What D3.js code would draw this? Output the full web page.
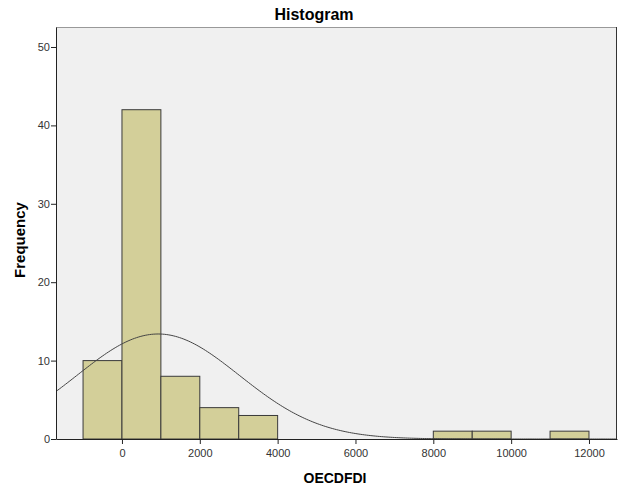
<!DOCTYPE html>
<html>
<head>
<meta charset="utf-8">
<script src="https://cdn.jsdelivr.net/npm/d3@7"></script>
<style>
  body { margin: 0; background: #fff; }
  text { font-family: "Liberation Sans", Arial, sans-serif; }
</style>
</head>
<body>
<svg id="chart" width="632" height="489"></svg>
<script>
// bin edges and counts
var binStart = [-1000, 0, 1000, 2000, 3000, 8000, 9000, 11000];
var binEnd   = [0, 1000, 2000, 3000, 4000, 9000, 10000, 12000];
var counts   = [10, 42, 8, 4, 3, 1, 1, 1];
var xTicks = [0, 2000, 4000, 6000, 8000, 10000, 12000];
var yTicks = [0, 10, 20, 30, 40, 50];
// normal curve parameters (estimated from the curve)
var curveMean = 930, curveSd = 2085, binWidth = 1000;

var margin = {top: 27, right: 15, bottom: 50, left: 56},
    width = 632 - margin.left - margin.right,
    height = 489 - margin.top - margin.bottom;

var svg = d3.select("#chart");
var chart = svg.append("g")
    .attr("transform", "translate(" + margin.left + "," + margin.top + ")");

var xScale = d3.scaleLinear()
    .domain([-1695, 12720])
    .range([0, width]);

var yScale = d3.scaleLinear()
    .domain([0, 52.55])
    .range([height, 0]);

// plot background
chart.append("rect")
    .attr("width", width)
    .attr("height", height)
    .attr("fill", "#f0f0f0");

var bins = counts.map((c, i) => ({x0: binStart[i], x1: binEnd[i], n: c}));

chart.selectAll("rect.bar")
    .data(bins)
    .enter()
    .append("rect")
    .attr("class", "bar")
    .attr("x", d => xScale(d.x0))
    .attr("y", d => yScale(d.n))
    .attr("width", d => xScale(d.x1) - xScale(d.x0))
    .attr("height", d => yScale(0) - yScale(d.n))
    .attr("fill", "#d3cf99")
    .attr("stroke", "#3a3a3a")
    .attr("stroke-width", 1);

// normal curve
var N = d3.sum(counts);
var pts = d3.range(0, 301).map(i => {
    var xv = xScale.domain()[0] + (xScale.domain()[1] - xScale.domain()[0]) * i / 300;
    var z = (xv - curveMean) / curveSd;
    return [xv, N * binWidth / (curveSd * Math.sqrt(2 * Math.PI)) * Math.exp(-0.5 * z * z)];
});
chart.append("path")
    .datum(pts)
    .attr("fill", "none")
    .attr("stroke", "#444")
    .attr("stroke-width", 1)
    .attr("d", d3.line().x(d => xScale(d[0])).y(d => yScale(d[1])));

// frame
chart.append("line").attr("x1", 0).attr("x2", width).attr("y1", 0.5).attr("y2", 0.5)
    .attr("stroke", "#999");
chart.append("line").attr("x1", width - 0.5).attr("x2", width - 0.5).attr("y1", 0).attr("y2", height)
    .attr("stroke", "#333");

var xAxis = chart.append("g")
    .attr("transform", "translate(0," + height + ")")
    .call(d3.axisBottom(xScale).tickValues(xTicks).tickFormat(d3.format("d")).tickSize(5).tickSizeOuter(0));

var yAxis = chart.append("g")
    .call(d3.axisLeft(yScale).tickValues(yTicks).tickSize(5).tickSizeOuter(0));

[xAxis, yAxis].forEach(a => {
    a.select(".domain").attr("stroke", "#222");
    a.selectAll(".tick line").attr("stroke", "#222");
    a.selectAll(".tick text")
        .attr("fill", "#333")
        .style("font-size", "11px")
        .style("font-family", "'Liberation Sans', Arial, sans-serif");
});
xAxis.selectAll(".tick text").attr("dy", "0.95em");
yAxis.selectAll(".tick text").attr("x", -6);

svg.append("text")
    .attr("x", 314)
    .attr("y", 20)
    .attr("text-anchor", "middle")
    .style("font-size", "16px")
    .style("font-weight", "bold")
    .text("Histogram");

svg.append("text")
    .attr("x", 335)
    .attr("y", 483)
    .attr("text-anchor", "middle")
    .style("font-size", "14px")
    .style("font-weight", "bold")
    .text("OECDFDI");

svg.append("text")
    .attr("transform", "translate(25,240) rotate(-90)")
    .attr("text-anchor", "middle")
    .style("font-size", "15px")
    .style("font-weight", "bold")
    .text("Frequency");
</script>
</body>
</html>
